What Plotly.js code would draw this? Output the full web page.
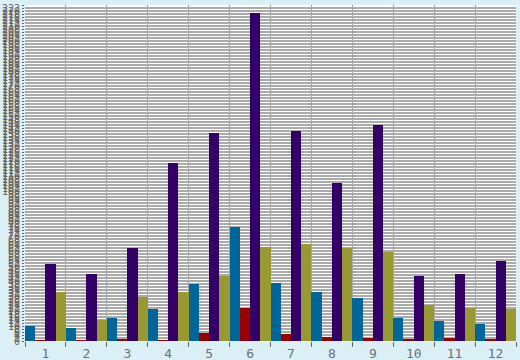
<!DOCTYPE html>
<html><head><meta charset="utf-8">
<script src="https://cdn.plot.ly/plotly-3.0.1.min.js"></script>
<style>html,body{margin:0;padding:0;background:#dbeff6;}</style>
</head><body>
<div id="chart" style="width:520px;height:360px;"></div>
<script>
const categories = ["1","2","3","4","5","6","7","8","9","10","11","12"];
const seriesBlue   = [10, 8.7, 15.3, 21.3, 38, 76, 38.7, 32.7, 28.7, 15.3, 13.3, 11.3];
const seriesRed    = [0.7, 0.7, 1.3, 0.7, 5.3, 22, 5, 2.7, 2, 1.3, 2, 1.3];
const seriesPurple = [51.3, 44.7, 62, 118.7, 138.7, 218.7, 140, 105.3, 144, 43.3, 44.7, 53.3];
const seriesOlive  = [32.7, 14, 29.3, 32.7, 43.3, 62.7, 64.7, 62, 59.3, 24, 22, 21.3];

const colors = ["#006699", "#990000", "#330066", "#999933"];
const allSeries = [seriesBlue, seriesRed, seriesPurple, seriesOlive];
const traces = allSeries.map((vals, i) => ({
  type: "bar", x: categories, y: vals,
  marker: {color: colors[i], line: {width: 0}},
  hoverinfo: "none"
}));

const layout = {
  width: 520, height: 360,
  paper_bgcolor: "#dbeff6", plot_bgcolor: "#ffffff",
  margin: {l: 25, r: 4, t: 5, b: 19},
  showlegend: false,
  barmode: "group", bargap: 0, bargroupgap: 0,
  font: {family: "DejaVu Sans Mono", color: "#666666"},
  xaxis: {
    type: "category", tickson: "boundaries", automargin: false,
    ticks: "outside", ticklen: 5, tickcolor: "#666666", tickwidth: 1,
    ticklabelstandoff: 3,
    showgrid: true, gridcolor: "#a0a0a0", gridwidth: 1,
    tickfont: {size: 13, color: "#707070", family: "DejaVu Sans Mono"},
    showline: false, zeroline: false
  },
  yaxis: {
    range: [0, 224], dtick: 2, tick0: 0, automargin: false,
    ticks: "outside", ticklen: 2, tickcolor: "#666666", tickwidth: 1,
    showgrid: true, gridcolor: "#aaaaaa", gridwidth: 1.6,
    tickfont: {size: 10, color: "#666666", family: "DejaVu Sans Mono"},
    showline: false, zeroline: false
  }
};
Plotly.newPlot("chart", traces, layout, {staticPlot: true, displayModeBar: false});
</script>
</body></html>
